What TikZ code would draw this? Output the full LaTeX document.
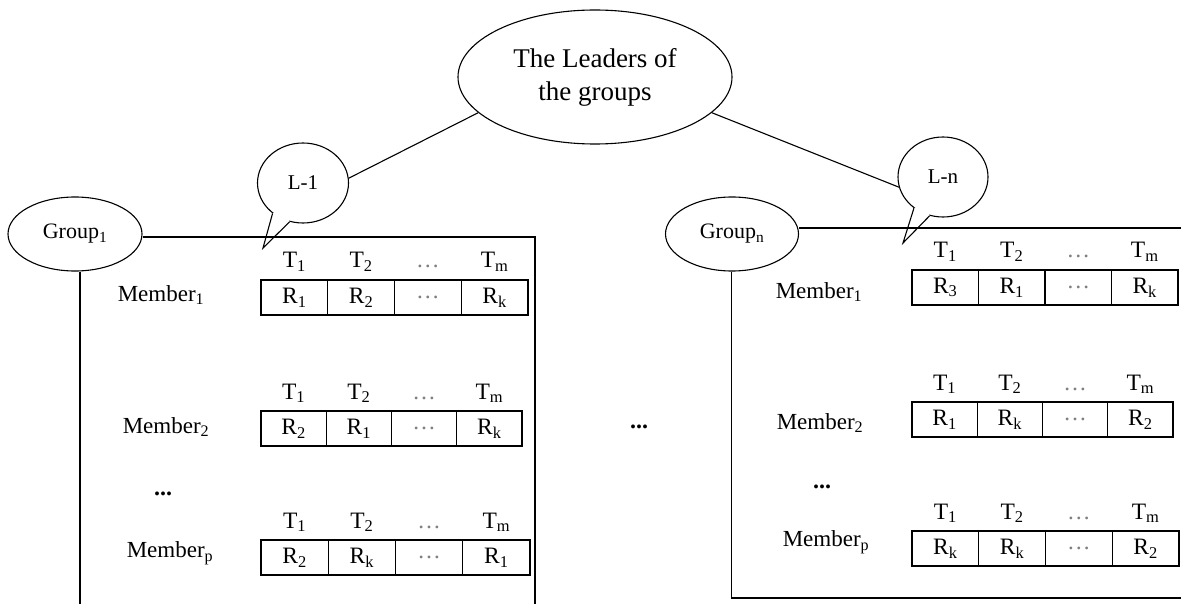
\documentclass[tikz,border=0pt]{standalone}
\usepackage{fontspec}
\setmainfont{Liberation Serif}
\usetikzlibrary{shapes.geometric,calc}
\newcommand\sbs[1]{\textsubscript{#1}}
\newcommand\gdots{\textcolor{gray}{\ldots}}
% #1 name, #2 x0, #3 ytop, #4 cell width, #5-#8 cell contents
\newcommand\gtab[8]{%
  \node[cell, minimum width=#4pt] (#1a) at (#2,#3) {#5};
  \node[cell, minimum width=#4pt] (#1b) at (#1a.north east) {#6};
  \node[cell, minimum width=#4pt] (#1c) at (#1b.north east) {#7};
  \node[cell, minimum width=#4pt] (#1d) at (#1c.north east) {#8};
  \node[tlab] (#1ta) at ([yshift=12pt]#1a.north) {T\sbs{1}};
  \node[tlab] (#1tb) at ([yshift=12pt]#1b.north) {T\sbs{2}};
  \node[tlab] (#1tc) at ([yshift=12pt]#1c.north) {\gdots};
  \node[tlab] (#1td) at ([yshift=12pt]#1d.north) {T\sbs{m}};
}
\begin{document}
\begin{tikzpicture}[x=1pt,y=-1pt,
  line/.style={line width=1.1pt},
  oval/.style={ellipse, draw, line width=1.1pt, inner sep=0pt, fill=white},
  cell/.style={draw, line width=1.1pt, minimum height=35pt, inner sep=0pt, outer sep=0pt,
               anchor=north west, font=\fontsize{23.5}{23.5}\selectfont},
  tlab/.style={anchor=base, font=\fontsize{23.5}{23.5}\selectfont, inner sep=0pt},
  mlab/.style={font=\fontsize{23}{23}\selectfont, inner sep=0pt},
  bdots/.style={font=\fontsize{24}{24}\selectfont\bfseries, inner sep=0pt}]
\useasboundingbox (0,0) rectangle (1181,604);
\fill[white] (0,0) rectangle (1181,604);

% leader
\node[oval, minimum width=274pt, minimum height=134pt, align=center,
      font=\fontsize{27}{33}\selectfont] (lead) at (595,77) {The Leaders of\\the groups};

% callout L-1
\node[oval, minimum width=91pt, minimum height=80pt, font=\fontsize{21}{21}\selectfont] (L1) at (303,183) {L-1};
\coordinate (L1tip) at (263,248);
\fill[white] (L1.225) -- (L1tip) -- (L1.251) -- ($(L1.center)!0.75!(L1.238)$) -- cycle;
\draw[line] (L1.225) -- (L1tip) -- (L1.251);

% callout L-n
\node[oval, minimum width=90pt, minimum height=80pt, font=\fontsize{21}{21}\selectfont] (Ln) at (943,177) {L-n};
\coordinate (Lntip) at (903,243);
\fill[white] (Ln.227) -- (Lntip) -- (Ln.251) -- ($(Ln.center)!0.75!(Ln.239)$) -- cycle;
\draw[line] (Ln.227) -- (Lntip) -- (Ln.251);

\draw[line] (lead.197) -- (L1.6);
\draw[line] (lead.343) -- (Ln.193);

% group 1
\node[oval, minimum width=134pt, minimum height=74pt, font=\fontsize{22}{22}\selectfont] (G1) at (75,234) {Group\sbs{1}};
\coordinate (G1r) at (535,237);
\coordinate (G1rb) at (535,606);
\coordinate (G1b) at (80,606);
\draw[line] (G1r -| G1.east) -- (G1r) -- (G1rb);
\draw[line] (G1b |- G1.south) -- (G1b);

% group n
\node[oval, minimum width=133pt, minimum height=74pt, font=\fontsize{22}{22}\selectfont] (Gn) at (732,234) {Group\sbs{n}};
\coordinate (Gnr) at (1185,228);
\coordinate (Gnb) at (731.5,598);
\coordinate (Gnbr) at (1185,598);
\draw[line] (Gnr -| Gn.east) -- (Gnr);
\draw[line] (Gnb |- Gn.south) -- (Gnb) -- (Gnbr);

% left tables
\gtab{la}{261}{280}{66.75}{R\sbs{1}}{R\sbs{2}}{\gdots}{R\sbs{k}}
\gtab{lb}{261}{411}{65.25}{R\sbs{2}}{R\sbs{1}}{\gdots}{R\sbs{k}}
\gtab{lc}{261}{540}{67.25}{R\sbs{2}}{R\sbs{k}}{\gdots}{R\sbs{1}}
\node[mlab] (lm1) at (161,295) {Member\sbs{1}};
\node[mlab] (lm2) at (166,427) {Member\sbs{2}};
\node[bdots] (ldots) at (163,494) {...};
\node[mlab] (lmp) at (170,553) {Member\sbs{p}};

% middle dots
\node[bdots] (mdots) at (639,427) {...};

% right tables
\gtab{ra}{912}{270}{66.5}{R\sbs{3}}{R\sbs{1}}{\gdots}{R\sbs{k}}
\gtab{rb}{912}{402}{65.25}{R\sbs{1}}{R\sbs{k}}{\gdots}{R\sbs{2}}
\gtab{rc}{912}{531}{66.75}{R\sbs{k}}{R\sbs{k}}{\gdots}{R\sbs{2}}
\node[mlab] (rm1) at (819,292) {Member\sbs{1}};
\node[mlab] (rm2) at (820,423) {Member\sbs{2}};
\node[bdots] (rdots) at (822,487) {...};
\node[mlab] (rmp) at (826,542) {Member\sbs{p}};
\end{tikzpicture}
\end{document}
